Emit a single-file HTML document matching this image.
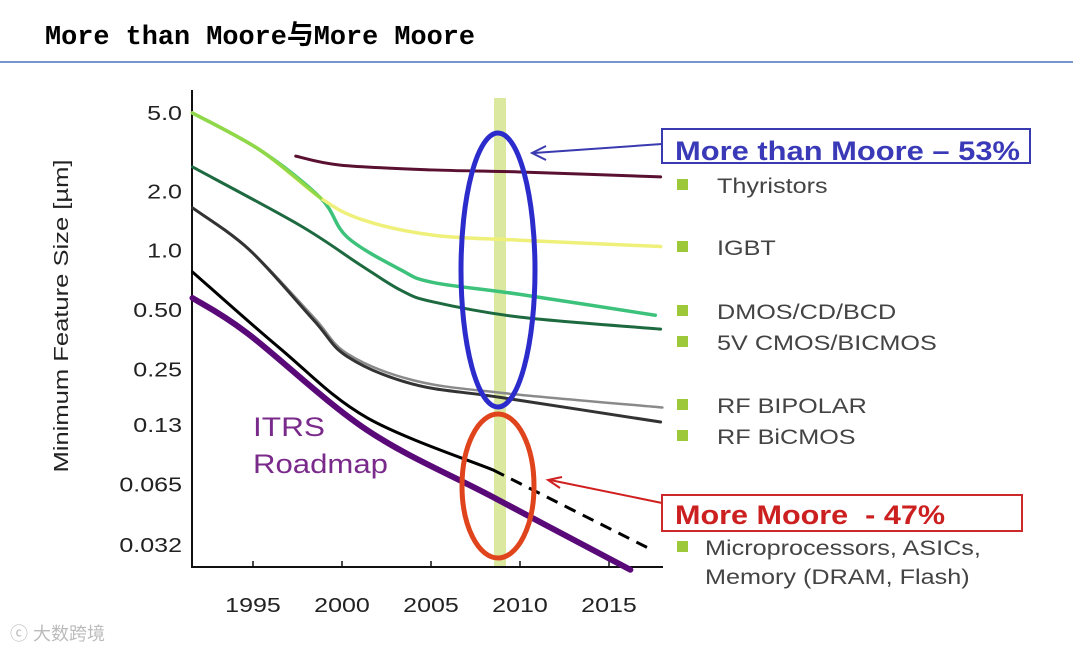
<!DOCTYPE html>
<html><head><meta charset="utf-8"><style>
body{margin:0;background:#fff;}
svg text{font-family:"Liberation Sans","Noto Sans CJK SC",sans-serif;}
</style></head><body>
<svg id="c" width="1073" height="652" viewBox="0 0 1073 652" xmlns="http://www.w3.org/2000/svg">
<text x="45" y="44" font-size="27" font-weight="bold" style="font-family:'Liberation Mono','Noto Sans CJK SC',monospace" textLength="430" lengthAdjust="spacingAndGlyphs">More than Moore与More Moore</text>
<line x1="0" y1="62" x2="1073" y2="62" stroke="#4a72c4" stroke-width="1.5"/>
<rect x="494" y="98" width="12" height="470" fill="#dbe9a0"/>
<g id="axes"></g>
<g id="series"></g>
<ellipse cx="498" cy="270" rx="37" ry="137" fill="none" stroke="#2c2ccc" stroke-width="5"/>
<ellipse cx="498" cy="486" rx="36" ry="72" fill="none" stroke="#e0441c" stroke-width="5"/>
<line x1="662" y1="144" x2="534" y2="153" stroke="#3a3ab0" stroke-width="2"/>
<polyline points="546,146 532,153 546,160" fill="none" stroke="#3a3ab0" stroke-width="2"/>
<line x1="662" y1="503" x2="550" y2="480" stroke="#d02020" stroke-width="2"/>
<polyline points="562,477 548,480 560,488" fill="none" stroke="#d02020" stroke-width="2"/>
<rect x="662" y="129" width="368" height="34" fill="none" stroke="#3a3ab0" stroke-width="2"/>
<text x="675" y="160" font-size="27" font-weight="bold" fill="#3a3ab8" textLength="345" lengthAdjust="spacingAndGlyphs">More than Moore – 53%</text>
<rect x="662" y="495" width="360" height="36" fill="none" stroke="#cc2a2a" stroke-width="2"/>
<text x="675" y="524" font-size="27" font-weight="bold" fill="#cc2020" textLength="270" lengthAdjust="spacingAndGlyphs" xml:space="preserve">More Moore  - 47%</text>
<text x="253" y="436" font-size="27" fill="#7a2a8a" textLength="72" lengthAdjust="spacingAndGlyphs">ITRS</text>
<text x="253" y="473" font-size="27" fill="#7a2a8a" textLength="135" lengthAdjust="spacingAndGlyphs">Roadmap</text>
<text x="68" y="316" font-size="20" fill="#222" transform="rotate(-90 68 316)" text-anchor="middle" textLength="313" lengthAdjust="spacingAndGlyphs">Minimum Feature Size [µm]</text>
<g id="legend"></g>
<text x="10" y="640" font-size="18" fill="#bbb">ⓒ 大数跨境</text>
</svg>
<script>
const yTickVals=[5.0,2.0,1.0,0.5,0.25,0.13,0.065,0.032];
const yTickLabels=["5.0","2.0","1.0","0.50","0.25","0.13","0.065","0.032"];
const xTicks=[1995,2000,2005,2010,2015];
const thyristors=[[1997.4,3.02],[1999.9,2.72],[2005.1,2.57],[2010,2.51],[2017.9,2.37]];
const igbt=[[1991.6,5.0],[1995.4,3.24],[1998.8,1.85],[2001.2,1.43],[2005.1,1.20],[2010,1.13],[2017.9,1.05]];
const dmos=[[1991.6,5.0],[1995.4,3.24],[1998.8,1.85],[2000.3,1.17],[2003.3,0.80],[2005.1,0.69],[2010,0.60],[2017.6,0.47]];
const cmos5v=[[1991.6,2.66],[1997.6,1.35],[2001,0.85],[2003.3,0.63],[2005.1,0.55],[2010,0.46],[2017.9,0.40]];
const rfBipolar=[[1991.6,1.65],[1994.8,1.01],[1998.4,0.46],[2000.3,0.30],[2004,0.22],[2008.9,0.19],[2018,0.16]];
const rfBicmos=[[1991.6,1.65],[1994.8,1.01],[1998.4,0.445],[2000.3,0.29],[2004,0.21],[2008.9,0.18],[2017.9,0.135]];
const micro=[[1991.6,0.78],[1996.5,0.32],[2001.4,0.142],[2008.5,0.077]];
const microProj=[[2008.5,0.077],[2017.5,0.030]];
const itrs=[[1991.6,0.575],[1994.7,0.38],[2001.4,0.123],[2008.5,0.056],[2016.2,0.024]];
const legendLabels=["Thyristors","IGBT","DMOS/CD/BCD","5V CMOS/BICMOS","RF BIPOLAR","RF BiCMOS","Microprocessors, ASICs,","Memory (DRAM, Flash)"];

const NS="http://www.w3.org/2000/svg";
function X(yr){return 253+(yr-1995)*17.8;}
function Y(v){return 113+59.3*Math.log2(5/v);}
function mk(tag,attrs,parent){const e=document.createElementNS(NS,tag);for(const k in attrs)e.setAttribute(k,attrs[k]);parent.appendChild(e);return e;}
function stretch(t,f){const w=t.getComputedTextLength();t.setAttribute('textLength',(w*f).toFixed(1));t.setAttribute('lengthAdjust','spacingAndGlyphs');}
const axes=document.getElementById('axes');
let e=mk('line',{x1:192,y1:90,x2:192,y2:567,stroke:'#111','stroke-width':2},axes);


e=mk('line',{x1:191,y1:567,x2:663,y2:567,stroke:'#111','stroke-width':2},axes);


yTickVals.forEach((v,i)=>{
  const t=mk('text',{x:182,y:Y(v)+7,'font-size':20,'text-anchor':'end',fill:'#222'},axes);
  t.textContent=yTickLabels[i];
  
  
  stretch(t,1.25);
});
xTicks.forEach(yr=>{
  const l=mk('line',{x1:X(yr),y1:567,x2:X(yr),y2:561,stroke:'#111','stroke-width':1.5},axes);
  
  
  const t=mk('text',{x:X(yr),y:612,'font-size':20,'text-anchor':'middle',fill:'#222'},axes);
  t.textContent=yr;
  
  
  stretch(t,1.25);
});
function pathD(pts){
  const p=pts.map(d=>[X(d[0]),Y(d[1])]);
  let s='M'+p[0][0]+','+p[0][1];
  for(let i=0;i<p.length-1;i++){
    const p0=p[i-1]||p[i],p1=p[i],p2=p[i+1],p3=p[i+2]||p2;
    const c1=[p1[0]+(p2[0]-p0[0])/6,p1[1]+(p2[1]-p0[1])/6];
    const c2=[p2[0]-(p3[0]-p1[0])/6,p2[1]-(p3[1]-p1[1])/6];
    s+=' C'+c1+' '+c2+' '+p2;
  }
  return s;
}
const sg=document.getElementById('series');
function line(pts,color,w,name,dash){
  const a={d:pathD(pts),fill:'none',stroke:color,'stroke-width':w,'stroke-linecap':'round','stroke-linejoin':'round'};
  if(dash){a['stroke-dasharray']=dash;a['stroke-linecap']='butt';}
  const p=mk('path',a,sg);
  
  
}
line(thyristors,'#5a1030',3,'thyristors-line');
line(dmos,'#3cc27a',3.5,'dmos-line');
line(igbt,'#eef07a',3.5,'igbt-line');
line(igbt.slice(0,3),'#8fd84a',3.5,'igbt-early-line');
line(cmos5v,'#1e6a40',3,'cmos5v-line');
line(rfBipolar,'#8a8a8a',2.5,'rf-bipolar-line');
line(rfBicmos,'#333',3,'rf-bicmos-line');
line(itrs,'#5a0a78',6,'itrs-roadmap-line');
line(micro,'#000',3,'microprocessor-line');
line(microProj,'#000',3,'microprocessor-projection-line','12,8');
const lg=document.getElementById('legend');
const rowY=[185,247,311,342,405,436,547,576];
legendLabels.forEach((lab,i)=>{
  if(i<7){
    const r=mk('rect',{x:677,y:rowY[i]-6,width:11,height:11,fill:'#9cc83a'},lg);
    
    
  }
  const t=mk('text',{x:i>=6?705:717,y:rowY[i]+8,'font-size':21,fill:'#444'},lg);
  t.textContent=lab;
  
  
  stretch(t,1.2);
});
</script>
</body></html>
